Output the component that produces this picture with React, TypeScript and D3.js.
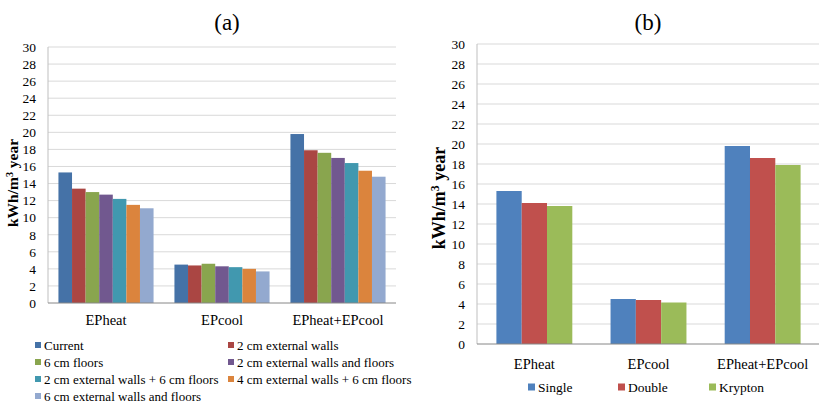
import React, { useRef, useEffect } from "react";
import * as d3 from "d3";

// shared
const categories = ["EPheat", "EPcool", "EPheat+EPcool"];
const yTicks = [0, 2, 4, 6, 8, 10, 12, 14, 16, 18, 20, 22, 24, 26, 28, 30];

// panel (a)
const seriesA = [
  "Current",
  "2 cm external walls",
  "6 cm floors",
  "2 cm external walls and floors",
  "2 cm external walls + 6 cm floors",
  "4 cm external walls + 6 cm floors",
  "6 cm external walls and floors",
];
const colorsA = ["#4572A7", "#AA4643", "#89A54E", "#71588F", "#4198AF", "#DB843D", "#93A9CF"];
const valuesA = [
  [15.3, 13.4, 13.0, 12.7, 12.2, 11.5, 11.1],
  [4.5, 4.4, 4.6, 4.3, 4.2, 4.0, 3.7],
  [19.8, 17.9, 17.6, 17.0, 16.4, 15.5, 14.8],
];

// panel (b)
const seriesB = ["Single", "Double", "Krypton"];
const colorsB = ["#4F81BD", "#C0504D", "#9BBB59"];
const valuesB = [
  [15.3, 14.1, 13.8],
  [4.5, 4.4, 4.15],
  [19.8, 18.6, 17.9],
];

const FONT = "Liberation Serif";

const drawPanel = (svg, o) => {
  const g = svg.append("g");
  const x0 = d3.scaleBand().domain(categories).range([o.left, o.right])
    .paddingInner(o.pin).paddingOuter(o.pout);
  const x1 = d3.scaleBand().domain(o.series).range([0, x0.bandwidth()]);
  const y = d3.scaleLinear().domain([0, 30]).range([o.bottom, o.top]);

  // grid
  g.selectAll(".grid").data(yTicks.slice(1)).enter().append("line")
    .attr("x1", o.left).attr("x2", o.right)
    .attr("y1", (d) => y(d)).attr("y2", (d) => y(d))
    .attr("stroke", "#d9d9d9").attr("stroke-width", 1);

  // bars
  categories.forEach((c, ci) => {
    g.selectAll(null).data(o.values[ci]).enter().append("rect")
      .attr("x", (d, i) => x0(c) + x1(o.series[i]))
      .attr("y", (d) => y(d))
      .attr("width", x1.bandwidth())
      .attr("height", (d) => o.bottom - y(d))
      .attr("fill", (d, i) => o.colors[i]);
  });

  // axis lines
  g.append("line").attr("x1", o.left).attr("x2", o.left)
    .attr("y1", o.top).attr("y2", o.bottom).attr("stroke", "#bfbfbf");
  g.append("line").attr("x1", o.left).attr("x2", o.right)
    .attr("y1", o.bottom).attr("y2", o.bottom).attr("stroke", "#868686");

  // y ticks
  const yAxis = g.append("g").attr("transform", `translate(${o.left},0)`)
    .call(d3.axisLeft(y).tickValues(yTicks).tickSize(0).tickPadding(o.tickPad));
  yAxis.attr("font-family", null).attr("font-size", null);
  yAxis.select(".domain").remove();
  yAxis.selectAll("text").style("font-family", FONT).style("font-size", o.tickFont + "px").attr("fill", "#000");

  // x labels
  const xAxis = g.append("g").attr("transform", `translate(0,${o.bottom})`)
    .call(d3.axisBottom(x0).tickSize(0).tickPadding(o.catPad));
  xAxis.attr("font-family", null).attr("font-size", null);
  xAxis.select(".domain").remove();
  xAxis.selectAll("text").style("font-family", FONT).style("font-size", o.catFont + "px").attr("fill", "#000");

  // title
  g.append("text").attr("x", o.titleX).attr("y", 30).attr("text-anchor", "middle")
    .style("font-family", FONT).style("font-size", "23px").text(o.title);

  // y label
  const yl = g.append("text")
    .attr("transform", `translate(${o.ylX},${o.ylY}) rotate(-90)`)
    .attr("text-anchor", "middle").style("font-family", FONT)
    .style("font-weight", "bold").style("font-size", o.ylFont + "px");
  yl.append("tspan").text("kWh/m");
  yl.append("tspan").attr("baseline-shift", "super").style("font-size", o.ylFont * 0.65 + "px").text("3");
  yl.append("tspan").text(" year");

  // legend
  const lg = g.selectAll(".lg").data(o.series).enter().append("g")
    .attr("transform", (d, i) => `translate(${o.legX[i]},${o.legY[i]})`);
  lg.append("rect").attr("x", 0).attr("y", -o.sw / 2).attr("width", o.sw).attr("height", o.sw)
    .attr("fill", (d, i) => o.colors[i]);
  lg.append("text").attr("x", o.sw + 3).attr("dy", "0.35em")
    .style("font-family", FONT).style("font-size", o.legFont + "px").text((d) => d);
};

const App = () => {
  const svgRef = useRef(null);

  useEffect(() => {
    const svg = d3.select(svgRef.current);
    svg.selectAll("*").remove();

    drawPanel(svg, {
      series: seriesA, colors: colorsA, values: valuesA, title: "(a)",
      left: 48, right: 396, top: 47, bottom: 303, pin: 0.18, pout: 0.09,
      tickFont: 13.5, tickPad: 12, catFont: 14.5, catPad: 12, titleX: 227,
      ylX: 18, ylY: 183, ylFont: 15.5,
      legX: [35, 228, 35, 228, 35, 228, 35],
      legY: [345, 345, 362, 362, 379, 379, 396],
      sw: 6, legFont: 13,
    });

    drawPanel(svg, {
      series: seriesB, colors: colorsB, values: valuesB, title: "(b)",
      left: 477, right: 820, top: 44, bottom: 344, pin: 0.335, pout: 0.17,
      tickFont: 13.5, tickPad: 12, catFont: 14.5, catPad: 15, titleX: 648,
      ylX: 445, ylY: 198, ylFont: 18,
      legX: [528, 618, 709], legY: [387, 387, 387],
      sw: 7, legFont: 13.5,
    });
  }, []);

  return (
    <svg ref={svgRef} width={819} height={404}
      style={{ position: "absolute", left: 0, top: 0, background: "#fff" }} />
  );
};

export default App;
